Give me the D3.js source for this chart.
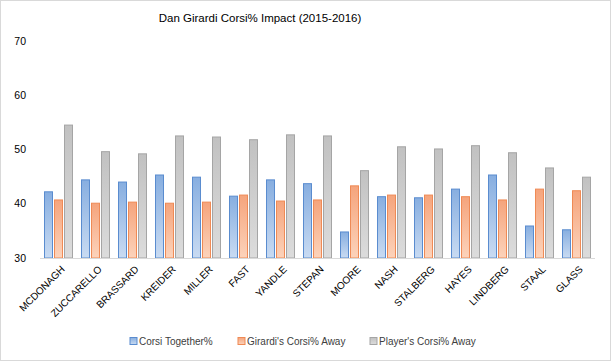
<!DOCTYPE html>
<html>
<head>
<meta charset="utf-8">
<script src="https://cdn.jsdelivr.net/npm/d3@7"></script>
<style>
  body { margin: 0; background: #fff; }
  svg { font-family: "Liberation Sans", Arial, sans-serif; }
</style>
</head>
<body>
<svg id="chart" width="611" height="361"></svg>
<script>
const players = ['MCDONAGH', 'ZUCCARELLO', 'BRASSARD', 'KREIDER', 'MILLER', 'FAST', 'YANDLE',
  'STEPAN', 'MOORE', 'NASH', 'STALBERG', 'HAYES', 'LINDBERG', 'STAAL', 'GLASS'];
const together = [42.2, 44.4, 44.0, 45.3, 44.9, 41.4, 44.4, 43.7, 34.8, 41.3, 41.1, 42.7, 45.3, 35.9, 35.2];
const girardiAway = [40.7, 40.1, 40.3, 40.1, 40.3, 41.6, 40.5, 40.7, 43.3, 41.6, 41.6, 41.3, 40.7, 42.7, 42.4];
const playerAway = [54.5, 49.6, 49.2, 52.5, 52.3, 51.8, 52.7, 52.5, 46.1, 50.5, 50.1, 50.7, 49.4, 46.6, 44.9];
const yTicks = [30, 40, 50, 60, 70];

const series = [
  { name: 'Corsi Together%', values: together, top: '#87aee0', bottom: '#c9dbf2', stroke: '#5a8ccf' },
  { name: "Girardi's Corsi% Away", values: girardiAway, top: '#f5a47c', bottom: '#fcd3bb', stroke: '#ef8a55' },
  { name: "Player's Corsi% Away", values: playerAway, top: '#c1c1c1', bottom: '#dcdcdc', stroke: '#a5a5a5' }
];

const svg = d3.select('#chart');
const margin = { left: 40, right: 16, top: 41, bottom: 103 };
const W = 611, H = 361;

svg.append('rect')
  .attr('x', 0.5).attr('y', 0.5)
  .attr('width', W - 1).attr('height', H - 1)
  .attr('fill', '#fff').attr('stroke', '#d9d9d9');

const x = d3.scaleBand()
  .domain(players)
  .range([margin.left, W - margin.right]);

const y = d3.scaleLinear()
  .domain([30, 70])
  .range([H - margin.bottom, margin.top]);

const barW = 9, barGap = 1;

// gradients
const defs = svg.append('defs');
series.forEach((s, i) => {
  const g = defs.append('linearGradient')
    .attr('id', 'grad' + i)
    .attr('x1', 0).attr('y1', 0).attr('x2', 0).attr('y2', 1);
  g.append('stop').attr('offset', '0%').attr('stop-color', s.top);
  g.append('stop').attr('offset', '100%').attr('stop-color', s.bottom);
});

// title
svg.append('text')
  .attr('x', 260).attr('y', 22)
  .attr('text-anchor', 'middle')
  .attr('font-size', 11.5)
  .attr('fill', '#000')
  .text('Dan Girardi Corsi% Impact (2015-2016)');

// y axis labels
svg.append('g')
  .selectAll('text')
  .data(yTicks)
  .join('text')
  .attr('x', 26)
  .attr('y', d => y(d))
  .attr('dy', '0.35em')
  .attr('text-anchor', 'end')
  .attr('font-size', 10.5)
  .attr('fill', '#000')
  .text(d => d);

// bars
series.forEach((s, si) => {
  svg.append('g')
    .selectAll('rect')
    .data(s.values)
    .join('rect')
    .attr('x', (d, i) => x(players[i]) + x.bandwidth() / 2 - (3 * barW + 2 * barGap) / 2 + si * (barW + barGap) + 0.5)
    .attr('y', d => y(d))
    .attr('width', barW - 1)
    .attr('height', d => y(30) - y(d))
    .attr('fill', 'url(#grad' + si + ')')
    .attr('stroke', s.stroke)
    .attr('stroke-width', 1);
});

// x axis line
svg.append('line')
  .attr('x1', margin.left).attr('x2', W - margin.right)
  .attr('y1', y(30) + 0.5).attr('y2', y(30) + 0.5)
  .attr('stroke', '#d9d9d9');

// x labels
svg.append('g')
  .selectAll('text')
  .data(players)
  .join('text')
  .attr('transform', d => `translate(${x(d) + x.bandwidth() / 2 + 2},${y(30) + 7}) rotate(-45)`)
  .attr('text-anchor', 'end')
  .attr('dy', '0.7em')
  .attr('font-size', 10)
  .attr('fill', '#000')
  .text(d => d);

// legend
const legendX = [130, 238, 370];
const legend = svg.append('g')
  .selectAll('g')
  .data(series)
  .join('g')
  .attr('transform', (d, i) => `translate(${legendX[i]},341)`);
legend.append('rect')
  .attr('x', 0).attr('y', -3.5)
  .attr('width', 7).attr('height', 7)
  .attr('fill', (d, i) => 'url(#grad' + i + ')')
  .attr('stroke', d => d.stroke);
legend.append('text')
  .attr('x', 9)
  .attr('dy', '0.35em')
  .attr('font-size', 10)
  .attr('fill', '#404040')
  .text(d => d.name);
</script>
</body>
</html>
